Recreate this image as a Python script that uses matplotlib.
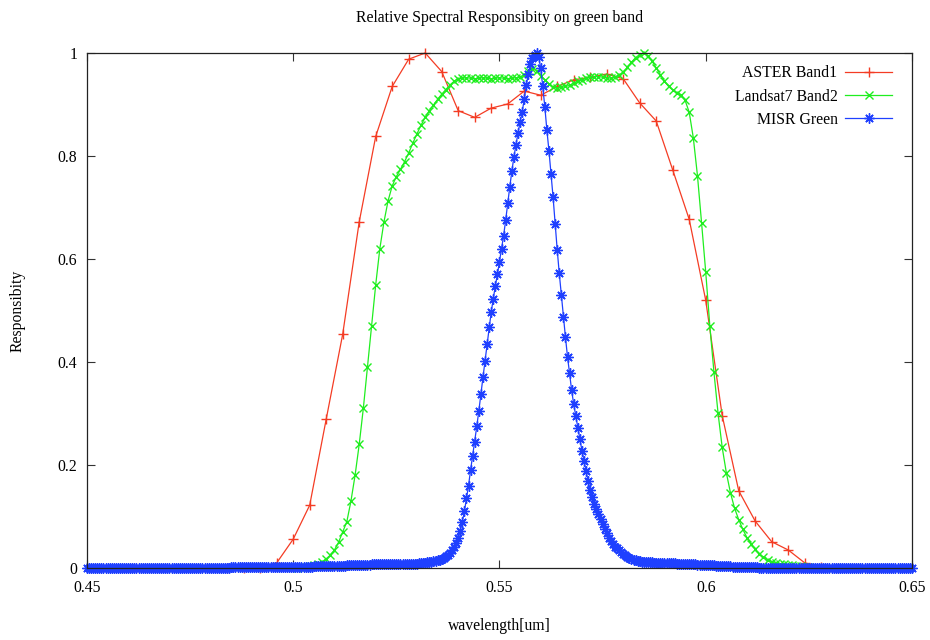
import numpy as np
import matplotlib
matplotlib.use("Agg")
import matplotlib.pyplot as plt
from matplotlib.ticker import FuncFormatter

plt.rcParams["font.family"] = ["Liberation Serif", "DejaVu Serif"]

# ASTER Band1 response, 4 nm sampling starting at 0.484 um
ASTER_START, ASTER_STEP = 0.484, 0.004
aster_rsr = [
    0.0, 0.0, 0.0, 0.010, 0.056, 0.122, 0.289, 0.454, 0.672, 0.838,
    0.935, 0.988, 1.000, 0.964, 0.888, 0.875, 0.893, 0.901, 0.926, 0.918,
    0.935, 0.948, 0.953, 0.959, 0.950, 0.903, 0.868, 0.773, 0.677, 0.520,
    0.296, 0.150, 0.091, 0.051, 0.035, 0.010, 0.002, 0.0,
]

# Landsat7 ETM+ Band2 response, 1 nm sampling starting at 0.501 um
LS7_START, LS7_STEP = 0.501, 0.001
landsat_rsr = [
    0.0, 0.001, 0.002, 0.003, 0.005, 0.008, 0.012, 0.018, 0.025, 0.035,
    0.050, 0.070, 0.090, 0.130, 0.180, 0.240, 0.310, 0.390, 0.470, 0.550,
    0.620, 0.672, 0.713, 0.742, 0.760, 0.774, 0.789, 0.806, 0.825, 0.843,
    0.860, 0.875, 0.888, 0.899, 0.910, 0.920, 0.929, 0.938, 0.945, 0.950,
    0.951, 0.952, 0.951, 0.950, 0.951, 0.952, 0.951, 0.950, 0.951, 0.952,
    0.951, 0.950, 0.951, 0.952, 0.953, 0.957, 0.965, 0.969, 0.966, 0.955,
    0.948, 0.940, 0.933, 0.932, 0.933, 0.935, 0.937, 0.941, 0.945, 0.948,
    0.951, 0.953, 0.954, 0.954, 0.953, 0.952, 0.951, 0.953, 0.957, 0.963,
    0.972, 0.982, 0.991, 0.997, 1.000, 0.995, 0.984, 0.971, 0.958, 0.945,
    0.935, 0.928, 0.923, 0.918, 0.908, 0.885, 0.835, 0.762, 0.670, 0.575,
    0.470, 0.380, 0.300, 0.234, 0.185, 0.146, 0.116, 0.094, 0.075, 0.059,
    0.047, 0.036, 0.027, 0.021, 0.016, 0.012, 0.009, 0.008, 0.007, 0.006,
    0.005, 0.004, 0.003, 0.002, 0.001, 0.0,
]

# MISR Green response, 0.5 nm sampling over 0.45-0.65 um
MISR_START, MISR_STEP = 0.45, 0.0005
misr_rsr = [
    # 0.4500 - 0.5295
    0.0, 0.0, 0.0, 0.0, 0.0, 0.0, 0.0, 0.0, 0.0, 0.0,
    0.0, 0.0, 0.0, 0.0, 0.0, 0.0, 0.0, 0.0, 0.0, 0.0,
    0.0, 0.0, 0.0, 0.0, 0.0, 0.0, 0.0, 0.0, 0.0, 0.0,
    0.0, 0.0, 0.0, 0.0, 0.0, 0.0, 0.0, 0.0, 0.0, 0.0,
    0.0, 0.0, 0.0, 0.0, 0.0, 0.0, 0.0, 0.0, 0.0, 0.0,
    0.0, 0.0, 0.0, 0.0, 0.0, 0.0, 0.0, 0.0, 0.0, 0.0,
    0.0, 0.0, 0.0, 0.0, 0.0, 0.0, 0.0, 0.0, 0.0, 0.0,
    0.001, 0.001, 0.001, 0.001, 0.001, 0.001, 0.001, 0.001, 0.001, 0.001,
    0.001, 0.001, 0.001, 0.001, 0.001, 0.001, 0.001, 0.001, 0.001, 0.001,
    0.001, 0.001, 0.001, 0.001, 0.001, 0.001, 0.001, 0.001, 0.001, 0.001,
    0.002, 0.002, 0.002, 0.002, 0.002, 0.002, 0.002, 0.002, 0.002, 0.002,
    0.003, 0.003, 0.003, 0.003, 0.003, 0.003, 0.003, 0.003, 0.003, 0.003,
    0.003, 0.003, 0.004, 0.004, 0.004, 0.004, 0.005, 0.005, 0.005, 0.005,
    0.005, 0.005, 0.006, 0.006, 0.006, 0.006, 0.006, 0.006, 0.007, 0.007,
    0.007, 0.007, 0.007, 0.007, 0.007, 0.007, 0.007, 0.007, 0.007, 0.007,
    0.007, 0.007, 0.008, 0.008, 0.008, 0.008, 0.008, 0.008, 0.008, 0.008,
    # 0.5300 - 0.5995
    0.008, 0.009, 0.009, 0.010, 0.010, 0.011, 0.011, 0.012, 0.013, 0.014,
    0.015, 0.016, 0.018, 0.020, 0.023, 0.026, 0.030, 0.034, 0.040, 0.048,
    0.058, 0.072, 0.090, 0.110, 0.135, 0.160, 0.190, 0.218, 0.245, 0.275,
    0.305, 0.338, 0.370, 0.402, 0.435, 0.467, 0.497, 0.523, 0.548, 0.570,
    0.595, 0.620, 0.645, 0.675, 0.708, 0.740, 0.770, 0.798, 0.822, 0.845,
    0.866, 0.885, 0.910, 0.937, 0.960, 0.978, 0.990, 0.997, 1.000, 0.993,
    0.970, 0.935, 0.895, 0.850, 0.810, 0.766, 0.720, 0.668, 0.618, 0.572,
    0.530, 0.488, 0.448, 0.410, 0.378, 0.345, 0.318, 0.295, 0.272, 0.250,
    0.228, 0.208, 0.188, 0.168, 0.152, 0.138, 0.125, 0.114, 0.104, 0.095,
    0.085, 0.076, 0.067, 0.059, 0.052, 0.046, 0.041, 0.038, 0.035, 0.031,
    0.028, 0.025, 0.022, 0.020, 0.018, 0.016, 0.015, 0.014, 0.013, 0.012,
    0.012, 0.011, 0.011, 0.011, 0.011, 0.010, 0.010, 0.010, 0.010, 0.010,
    0.010, 0.009, 0.009, 0.009, 0.009, 0.009, 0.008, 0.008, 0.008, 0.008,
    0.008, 0.007, 0.007, 0.007, 0.007, 0.007, 0.006, 0.006, 0.006, 0.006,
    # 0.6000 - 0.6500
    0.006, 0.005, 0.005, 0.005, 0.005, 0.004, 0.004, 0.004, 0.004, 0.003,
    0.003, 0.003, 0.003, 0.002, 0.002, 0.002, 0.002, 0.002, 0.001, 0.001,
    0.001, 0.001, 0.001, 0.001, 0.001, 0.001, 0.0, 0.0, 0.0, 0.0,
    0.0, 0.0, 0.0, 0.0, 0.0, 0.0, 0.0, 0.0, 0.0, 0.0,
    0.0, 0.0, 0.0, 0.0, 0.0, 0.0, 0.0, 0.0, 0.0, 0.0,
    0.0, 0.0, 0.0, 0.0, 0.0, 0.0, 0.0, 0.0, 0.0, 0.0,
    0.0, 0.0, 0.0, 0.0, 0.0, 0.0, 0.0, 0.0, 0.0, 0.0,
    0.0, 0.0, 0.0, 0.0, 0.0, 0.0, 0.0, 0.0, 0.0, 0.0,
    0.0, 0.0, 0.0, 0.0, 0.0, 0.0, 0.0, 0.0, 0.0, 0.0,
    0.0, 0.0, 0.0, 0.0, 0.0, 0.0, 0.0, 0.0, 0.0, 0.0,
    0.0,
]

X_TICKS = [0.45, 0.5, 0.55, 0.6, 0.65]
Y_TICKS = [0, 0.2, 0.4, 0.6, 0.8, 1]

RED, GREEN, BLUE = "#f43c24", "#1fee1f", "#1f40ff"
FS = 11.3


def grid(start, step, n):
    return np.round(start + step * np.arange(n), 4)


fig = plt.figure(figsize=(9.3, 6.4), dpi=100)
ax = fig.add_axes([0.0935, 0.1125, 0.8871, 0.8047])

ax.plot(grid(ASTER_START, ASTER_STEP, len(aster_rsr)), aster_rsr,
        color=RED, lw=0.9, marker="+", ms=7.5, mew=1.0,
        label="ASTER Band1", clip_on=False, zorder=3)
ax.plot(grid(LS7_START, LS7_STEP, len(landsat_rsr)), landsat_rsr,
        color=GREEN, lw=0.9, marker="x", ms=6.3, mew=1.0,
        label="Landsat7 Band2", clip_on=False, zorder=3)
ax.plot(grid(MISR_START, MISR_STEP, len(misr_rsr)), misr_rsr,
        color=BLUE, lw=0.9, marker=(8, 2, 0), ms=7.3, mew=1.0,
        label="MISR Green", clip_on=False, zorder=3)

ax.set_xlim(0.45, 0.65)
ax.set_ylim(0, 1)
ax.set_xticks(X_TICKS)
ax.set_yticks(Y_TICKS)
fmt = FuncFormatter(lambda v, _: f"{v:g}")
ax.xaxis.set_major_formatter(fmt)
ax.yaxis.set_major_formatter(fmt)
ax.tick_params(direction="in", top=True, right=True, length=6, width=0.8,
               labelsize=FS, color="#333333")
ax.tick_params(axis="x", pad=9)
ax.tick_params(axis="y", pad=7)
for s in ax.spines.values():
    s.set_linewidth(0.9)
    s.set_color("#222222")
    s.set_zorder(4)

ax.set_title("Relative Spectral Responsibity on green band", fontsize=FS, pad=22)
ax.set_xlabel("wavelength[um]", fontsize=FS)
ax.set_ylabel("Responsibity", fontsize=FS)
ax.xaxis.set_label_coords(0.5, -0.098)
ax.yaxis.set_label_coords(-0.074, 0.5)

ax.legend(loc="upper right", bbox_to_anchor=(0.984, 0.988), frameon=False,
          markerfirst=False, handlelength=3.0, handletextpad=0.5,
          labelspacing=0.46, fontsize=FS, borderaxespad=0.0)

fig.savefig("out.png", dpi=100, facecolor="white")
